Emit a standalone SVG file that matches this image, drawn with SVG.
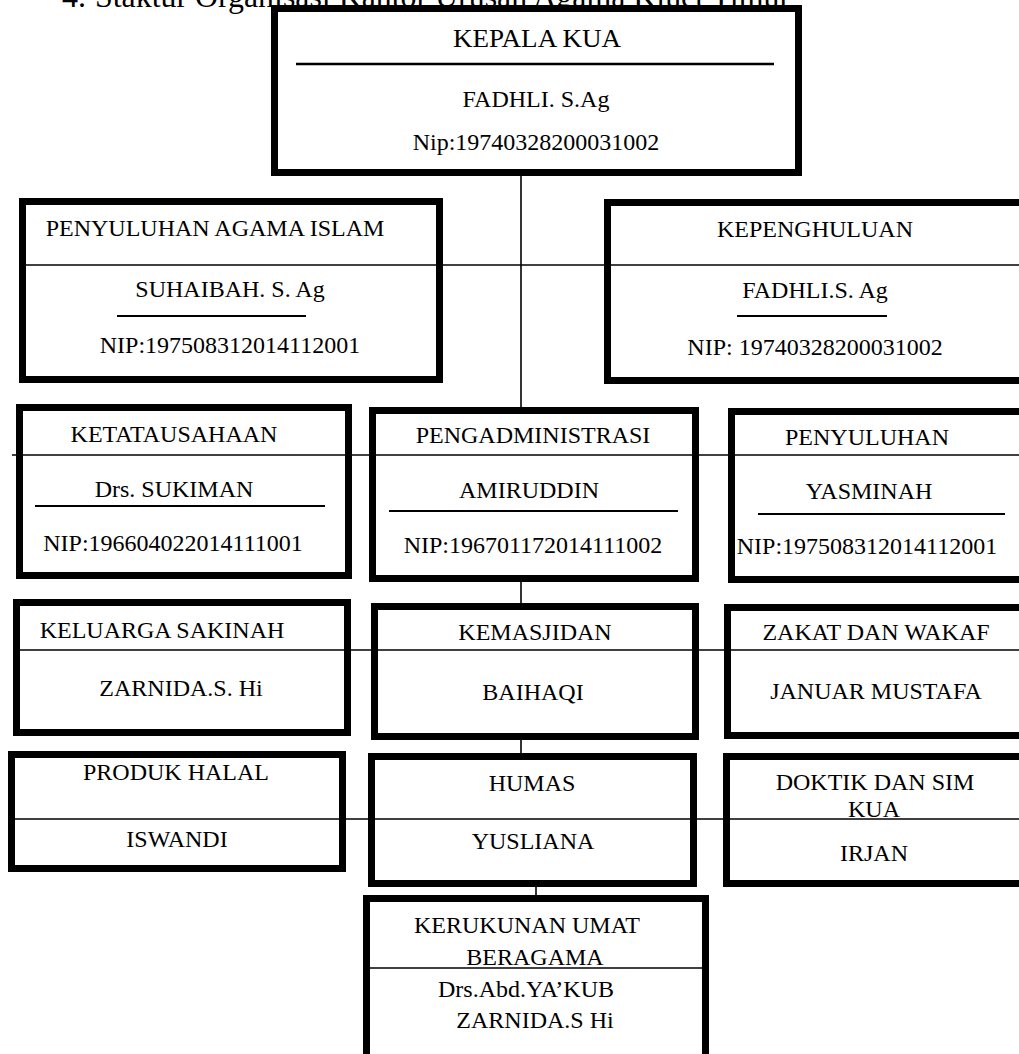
<svg xmlns="http://www.w3.org/2000/svg" width="1019" height="1054" viewBox="0 0 1019 1054">
<style>
text{font-family:"Liberation Serif","Times New Roman",serif;font-size:24px;fill:#000;text-anchor:middle}
.box{fill:#fff;stroke:#000;stroke-width:7}
.ul{stroke:#000;stroke-width:2}
.conn{stroke:#000;stroke-width:1.6;fill:none}
</style>
<rect x="0" y="0" width="1019" height="1054" fill="#fff"/>
<text x="62" y="7" style="font-size:32px;text-anchor:start">4.</text>
<text x="95" y="7" style="font-size:32px;text-anchor:start" textLength="695" lengthAdjust="spacingAndGlyphs">Staktur Organisasi Kantor Urusan Agama Kluet Timur</text>

<g id="kepala-kua">
<rect class="box" x="274.5" y="8.5" width="524" height="164"/>
<text x="537" y="47" style="font-size:26px" textLength="168" lengthAdjust="spacingAndGlyphs">KEPALA KUA</text>
<line class="ul" x1="296" y1="64" x2="774" y2="64" style="stroke-width:2.5"/>
<text x="536" y="107">FADHLI. S.Ag</text>
<text x="536" y="150">Nip:19740328200031002</text>
</g>

<g id="penyuluhan-agama-islam">
<rect class="box" x="22.5" y="201.5" width="417" height="178"/>
<text x="215" y="236">PENYULUHAN AGAMA ISLAM</text>
<text x="230" y="297">SUHAIBAH. S. Ag</text>
<line class="ul" x1="117" y1="316" x2="306" y2="316"/>
<text x="230" y="353">NIP:197508312014112001</text>
</g>

<g id="kepenghuluan">
<rect class="box" x="607.5" y="202.5" width="430" height="178"/>
<text x="815" y="237">KEPENGHULUAN</text>
<text x="815" y="298">FADHLI.S. Ag</text>
<line class="ul" x1="737" y1="316" x2="887" y2="316"/>
<text x="815" y="355">NIP: 19740328200031002</text>
</g>

<g id="ketatausahaan">
<rect class="box" x="19.5" y="407.5" width="329" height="168"/>
<text x="174" y="442">KETATAUSAHAAN</text>
<text x="174" y="497">Drs. SUKIMAN</text>
<line class="ul" x1="35" y1="506" x2="325" y2="506"/>
<text x="173" y="551">NIP:196604022014111001</text>
</g>

<g id="pengadministrasi">
<rect class="box" x="372.5" y="410.5" width="323" height="168"/>
<text x="533" y="443">PENGADMINISTRASI</text>
<text x="529" y="498">AMIRUDDIN</text>
<line class="ul" x1="389" y1="511" x2="678" y2="511"/>
<text x="533" y="553">NIP:196701172014111002</text>
</g>

<g id="penyuluhan">
<rect class="box" x="731.5" y="411.5" width="300" height="168"/>
<text x="867" y="445">PENYULUHAN</text>
<text x="869" y="499">YASMINAH</text>
<line class="ul" x1="758" y1="514" x2="1005" y2="514"/>
<text x="867" y="554">NIP:197508312014112001</text>
</g>

<g id="keluarga-sakinah">
<rect class="box" x="16.5" y="602.5" width="331" height="130"/>
<text x="162" y="638">KELUARGA SAKINAH</text>
<text x="181" y="696">ZARNIDA.S. Hi</text>
</g>

<g id="kemasjidan">
<rect class="box" x="374.5" y="606.5" width="321" height="130"/>
<text x="535" y="640">KEMASJIDAN</text>
<text x="533" y="700">BAIHAQI</text>
</g>

<g id="zakat-dan-wakaf">
<rect class="box" x="727.5" y="607.5" width="300" height="128"/>
<text x="876" y="640">ZAKAT DAN WAKAF</text>
<text x="876" y="699">JANUAR MUSTAFA</text>
</g>

<g id="produk-halal">
<rect class="box" x="11.5" y="754.5" width="331" height="114"/>
<text x="176" y="780">PRODUK HALAL</text>
<text x="177" y="847">ISWANDI</text>
</g>

<g id="humas">
<rect class="box" x="371.5" y="756.5" width="322" height="127"/>
<text x="532" y="791">HUMAS</text>
<text x="533" y="849">YUSLIANA</text>
</g>

<g id="doktik-dan-sim-kua">
<rect class="box" x="726.5" y="756.5" width="300" height="127"/>
<text x="875" y="790">DOKTIK DAN SIM</text>
<text x="874" y="817">KUA</text>
<text x="874" y="861">IRJAN</text>
</g>

<g id="kerukunan-umat-beragama">
<rect class="box" x="366.5" y="898.5" width="339" height="170"/>
<text x="527" y="933">KERUKUNAN UMAT</text>
<text x="535" y="965">BERAGAMA</text>
<line class="conn" x1="369" y1="968" x2="703" y2="968"/>
<text x="526" y="997">Drs.Abd.YA’KUB</text>
<text x="535" y="1028">ZARNIDA.S Hi</text>
</g>

<g id="connectors">
<line class="conn" x1="521" y1="176" x2="521" y2="407"/>
<line class="conn" x1="521" y1="582" x2="521" y2="603"/>
<line class="conn" x1="521" y1="740" x2="521" y2="753"/>
<line class="conn" x1="536" y1="887" x2="536" y2="895"/>
<line class="conn" x1="20" y1="265" x2="1019" y2="265"/>
<line class="conn" x1="12" y1="455" x2="1019" y2="455"/>
<line class="conn" x1="20" y1="650" x2="1019" y2="650"/>
<line class="conn" x1="15" y1="819" x2="1019" y2="819"/>
</g>
</svg>
